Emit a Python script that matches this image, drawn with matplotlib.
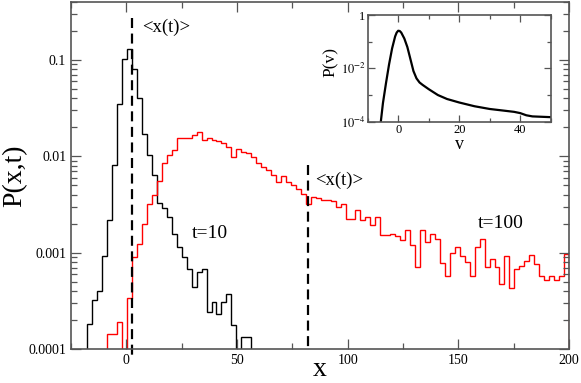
import numpy as np
import matplotlib
matplotlib.use('Agg')
import matplotlib.pyplot as plt
from matplotlib.ticker import FixedLocator, FixedFormatter, MultipleLocator, NullFormatter

plt.rcParams.update({'font.family': 'serif', 'font.serif': ['Liberation Serif'],
                     'mathtext.fontset': 'stix', 'figure.facecolor': 'white'})

# histogram bins (97 equal bins from -17.6 to 200)
bin_lo, bin_hi, n_bins = -17.6, 200.0, 97

# P(x,t) at t=10 (first bins, rest empty)
p_t10 = [1.8e-4, 3.2e-4, 4.0e-4, 9.3e-4, 2.2e-3, 8.1e-3, 3.5e-2, 0.103, 0.130, 0.081,
         0.040, 0.0172, 0.0103, 6.4e-3, 3.3e-3, 2.9e-3, 2.35e-3, 1.58e-3, 1.15e-3, 9.1e-4,
         6.7e-4, 4.4e-4, 6.3e-4, 6.7e-4, 2.4e-4, 3.1e-4, 2.3e-4, 3.1e-4, 3.7e-4, 1.77e-4,
         0, 1.34e-4, 1.34e-4]

# P(x,t) at t=100
p_t100 = [0, 0, 0, 0, 1.42e-4, 1.42e-4, 1.92e-4, 0, 3.35e-4, 9.1e-4,
          1.24e-3, 2.0e-3, 3.2e-3, 4.0e-3, 5.6e-3, 8.6e-3, 1.03e-2, 1.15e-2, 1.56e-2, 1.56e-2,
          1.54e-2, 1.65e-2, 1.77e-2, 1.49e-2, 1.56e-2, 1.47e-2, 1.45e-2, 1.37e-2, 1.26e-2, 9.9e-3,
          1.2e-2, 1.11e-2, 1.08e-2, 9.9e-3, 8.5e-3, 7.8e-3, 7.2e-3, 6.4e-3, 5.4e-3, 6.2e-3,
          5.4e-3, 5.0e-3, 4.6e-3, 4.1e-3, 3.2e-3, 3.8e-3, 3.65e-3, 3.5e-3, 3.5e-3, 3.4e-3,
          3.0e-3, 3.2e-3, 2.26e-3, 2.26e-3, 2.75e-3, 2.17e-3, 2.35e-3, 1.93e-3, 2.35e-3, 1.52e-3,
          1.52e-3, 1.58e-3, 1.48e-3, 1.35e-3, 1.71e-3, 1.20e-3, 7.1e-4, 1.71e-3, 1.29e-3, 1.58e-3,
          1.37e-3, 7.8e-4, 5.7e-4, 9.95e-4, 1.15e-3, 9.2e-4, 8.0e-4, 5.7e-4, 1.15e-3, 1.37e-3,
          7.1e-4, 8.6e-4, 7.1e-4, 4.7e-4, 9.2e-4, 4.26e-4, 6.7e-4, 7.3e-4, 8.2e-4, 9.5e-4,
          7.7e-4, 5.75e-4, 5.2e-4, 5.75e-4, 5.2e-4, 5.75e-4, 9.6e-4]

mean_x = [2.6, 82.0]  # <x(t)> for t=10, t=100

# inset: velocity distribution P(v)
v = [-6.0, -5.0, -4.0, -3.0, -2.0, -1.0, -0.5, 0.0, 0.5, 1.0, 2.0, 3.0, 4.0, 5.0, 6.0,
     7.0, 8.0, 10.0, 13.0, 16.0, 20.0, 25.0, 30.0, 35.0, 38.0, 40.0, 42.0, 44.0, 50.0]
pv = [5.0e-5, 5.0e-4, 2.8e-3, 1.4e-2, 5.6e-2, 0.158, 0.219, 0.257, 0.251, 0.219, 0.132,
      0.063, 0.0224, 7.9e-3, 4.2e-3, 2.95e-3, 2.4e-3, 1.66e-3, 1.0e-3, 7.1e-4, 5.25e-4,
      3.8e-4, 3.0e-4, 2.57e-4, 2.34e-4, 2.1e-4, 1.74e-4, 1.58e-4, 1.48e-4]

ytick_vals = [1e-4, 1e-3, 1e-2, 1e-1]
ytick_labels = ['0.0001', '0.001', '0.01', '0.1']

edges = np.linspace(bin_lo, bin_hi, n_bins + 1)
floor = 1e-7

fig = plt.figure(figsize=(5.81, 3.83), dpi=100)
ax = fig.add_axes([71/581, 34/383, 498/581, 347/383])
ax.set_yscale('log')

b = np.maximum(np.array(p_t10, float), floor)
ax.stairs(b, edges[:len(b) + 1], baseline=floor, color='black', lw=1.0)
r = np.maximum(np.array(p_t100, float), floor)
ax.stairs(r, edges[:len(r) + 1], baseline=floor, color='red', lw=1.0)

ax.plot([mean_x[0], mean_x[0]], [0.27, 8.6e-5], color='black', lw=1.6, dashes=(4.5, 2.5), clip_on=False)
ax.plot([mean_x[1], mean_x[1]], [8.1e-3, 1e-4], color='black', lw=1.6, dashes=(4.5, 2.5))

ax.text(7.0, 0.22, '<x(t)>', fontsize=13.5, va='center')
ax.text(85.5, 5.7e-3, '<x(t)>', fontsize=13.5, va='center')
ax.text(29.5, 1.6e-3, 't=10', fontsize=14, va='center')
ax.text(158.8, 2.0e-3, 't=100', fontsize=14, va='center')

ax.set_xlim(-25, 200)
ax.set_ylim(1e-4, 0.4)
ax.xaxis.set_major_locator(MultipleLocator(50))
ax.xaxis.set_minor_locator(MultipleLocator(25))
ax.yaxis.set_major_locator(FixedLocator(ytick_vals))
ax.yaxis.set_major_formatter(FixedFormatter(ytick_labels))
ax.yaxis.set_minor_locator(FixedLocator([m * d for d in [1e-4, 1e-3, 1e-2, 1e-1] for m in range(2, 10)]))
ax.yaxis.set_minor_formatter(NullFormatter())
ax.tick_params(which='both', direction='in', top=True, right=True, width=0.9, color='#555', labelsize=10)
ax.tick_params(which='major', length=7.5)
ax.tick_params(which='minor', length=4)
for s in ax.spines.values():
    s.set_color('#555'); s.set_linewidth(1.2)
ax.set_xlabel('x', fontsize=20, va='center')
ax.xaxis.set_label_coords(0.5, -0.058)
ax.set_ylabel('P(x,t)', fontsize=20, va='center')
ax.yaxis.set_label_coords(-0.113, 0.5)

# inset
axi = fig.add_axes([367.7/581, (383-121.7)/383, 183/581, 106.7/383])
axi.set_yscale('log')
axi.plot(v, pv, color='black', lw=1.6)
axi.set_xlim(-10, 50)
axi.set_ylim(1e-4, 1)
axi.xaxis.set_major_locator(MultipleLocator(20))
axi.xaxis.set_minor_locator(MultipleLocator(10))
axi.yaxis.set_major_locator(FixedLocator([1e-4, 1e-2, 1]))
axi.yaxis.set_major_formatter(FixedFormatter([r'$10^{-4}$', r'$10^{-2}$', '1']))
axi.yaxis.set_minor_locator(FixedLocator([1e-3, 1e-1]))
axi.yaxis.set_minor_formatter(NullFormatter())
axi.tick_params(which='both', direction='in', top=True, right=True, width=0.9, color='#555', labelsize=9, pad=1.5)
axi.tick_params(which='major', length=5)
axi.tick_params(which='minor', length=3)
for s in axi.spines.values():
    s.set_color('#555'); s.set_linewidth(1.2)
axi.set_xlabel('v', fontsize=13, va='center')
axi.xaxis.set_label_coords(0.5, -0.215)
axi.set_ylabel('P(v)', fontsize=12.5, va='center')
axi.yaxis.set_label_coords(-0.2, 0.56)

fig.savefig('out.png', dpi=100)
